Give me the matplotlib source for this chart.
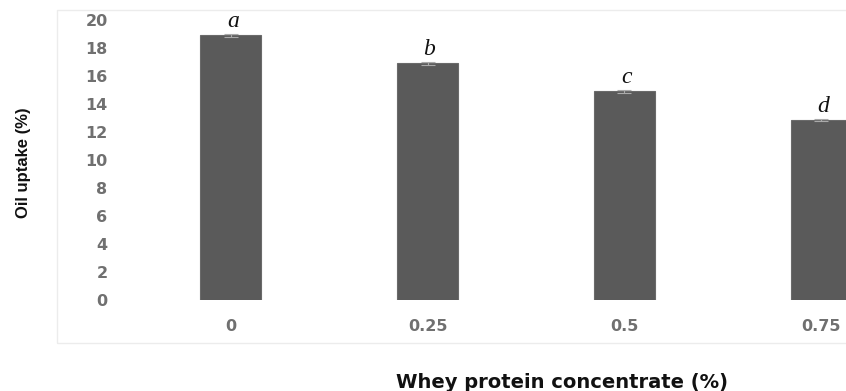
import matplotlib.pyplot as plt
from matplotlib.patches import Rectangle

# Data
categories = ['0', '0.25', '0.5', '0.75']
oil_uptake = [18.9, 16.9, 14.9, 12.85]
errors = [0.12, 0.1, 0.08, 0.08]
letters = ['a', 'b', 'c', 'd']

W, H = 846, 391
fig = plt.figure(figsize=(W / 100, H / 100), dpi=100)

# faint chart-area border
fig.patches.append(Rectangle((57 / W, (H - 343) / H), 1.0, (343 - 10) / H,
                             transform=fig.transFigure, fill=False,
                             edgecolor='#ececec', linewidth=1.0))

ax = fig.add_axes([132.5 / W, (H - 300) / H, (W - 132.5) / W, 280 / H])
x = range(len(categories))
ax.bar(x, oil_uptake, width=0.31, color='#5a5a5a', edgecolor='#6a6a6a',
       linewidth=0.8, zorder=2)
ax.errorbar(x, oil_uptake, yerr=errors, fmt='none', ecolor='#aaaaaa',
            elinewidth=0.8, capsize=5, capthick=0.8, zorder=3)

for xi, v, e, lab in zip(x, oil_uptake, errors, letters):
    ax.text(xi + 0.01, v + e + 0.15, lab, ha='center', va='bottom',
            fontsize=17, fontstyle='italic', family='Liberation Serif',
            color='#111111')

ax.set_xlim(-0.5, 3 + (W - 821) / 197)
ax.set_ylim(0, 20)
ax.set_yticks(range(0, 21, 2))
ax.set_xticks(list(x))
ax.set_xticklabels(categories)
for lbl in ax.get_xticklabels() + ax.get_yticklabels():
    lbl.set_fontweight('bold')
ax.tick_params(axis='y', length=0, pad=18, labelsize=11.5, labelcolor='#707070')
ax.tick_params(axis='x', length=0, pad=14, labelsize=11.5, labelcolor='#707070')
for s in ax.spines.values():
    s.set_visible(False)
ax.set_facecolor('none')

fig.text(23.5 / W, 1 - 163 / H, 'Oil uptake (%)', rotation=90, ha='center',
         va='center', fontsize=12, fontweight='bold',
         family='Liberation Sans', color='#111111')
fig.text(562 / W, 1 - 383 / H, 'Whey protein concentrate (%)', ha='center',
         va='center', fontsize=14, fontweight='bold', family='DejaVu Sans',
         color='#111111')

fig.savefig('out.png', dpi=100)
